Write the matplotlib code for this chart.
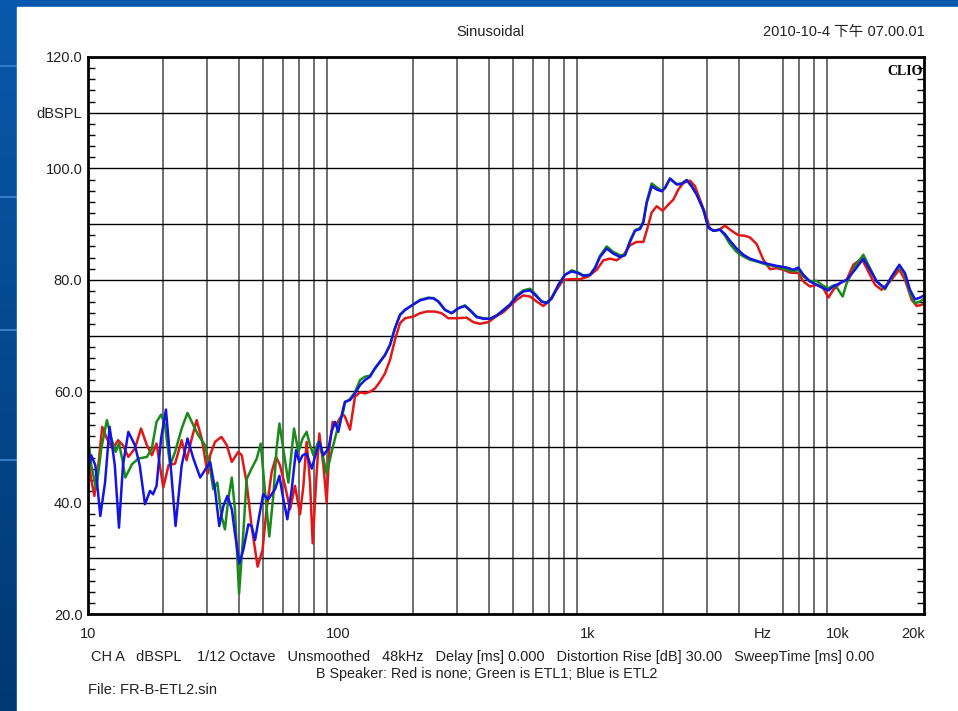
import numpy as np
import matplotlib
matplotlib.use("Agg")
import matplotlib.pyplot as plt
from matplotlib.ticker import FixedLocator, NullFormatter, MultipleLocator, LogLocator
from matplotlib.patches import Rectangle

plt.rcParams['font.family'] = ['Liberation Sans', 'Noto Sans CJK SC', 'DejaVu Sans']

# (frequency Hz, level dBSPL)
red = [(10.0, 48.5), (10.3, 44.2), (10.6, 41.2), (11.0, 46.7), (11.4, 53.6), (11.9, 51.5), (12.2, 50.6),
       (12.6, 49.7), (13.2, 51.2), (13.8, 50.3), (14.5, 48.2), (15.4, 49.7), (16.3, 53.3), (17.2, 50.3),
       (18.0, 48.5), (18.8, 50.6), (20.0, 42.7), (21.0, 46.7), (22.3, 47.0), (23.7, 51.2), (24.8, 47.6),
       (26.0, 51.5), (27.2, 54.8), (28.5, 51.5), (30.1, 45.2),
       (30.8, 48.5), (32.2, 50.9), (34.2, 51.8), (35.9, 50.3), (37.6, 47.3), (39.9, 49.1), (41.2, 48.5),
       (43.1, 43.6), (45.1, 35.8), (47.7, 28.5), (49.9, 31.5), (51.8, 38.8), (54.3, 45.5), (56.5, 48.2),
       (58.6, 46.7), (61.4, 43.0), (64.3, 38.8), (67.3, 43.0), (70.5, 37.9), (72.7, 43.0), (74.9, 50.9),
       (77.3, 43.6), (79.2, 32.7), (81.7, 43.6), (84.2, 52.4), (87.4, 46.7), (90.1, 40.0), (92.3, 49.7),
       (95.2, 54.5), (98.2, 53.9), (101.9, 55.2), (105.0, 55.8),
       (106.7, 55.4), (111.7, 53.1), (116.9, 59.0), (122.5, 59.8), (128.2, 59.6), (134.3, 59.9),
       (140.6, 60.5), (147.2, 61.7), (154.2, 63.2), (161.4, 65.6), (169.0, 69.2), (177.0, 72.2),
       (185.4, 73.1), (200.1, 73.4), (212.8, 74.0), (226.3, 74.3), (244.3, 74.3), (259.8, 74.0),
       (276.3, 73.1), (298.3, 73.1),
       (327.1, 73.2), (347.8, 72.4), (369.8, 72.1), (399.4, 72.4), (431.2, 73.5), (458.5, 74.2),
       (487.5, 75.3), (518.4, 76.4), (551.2, 77.2), (586.1, 77.0), (623.3, 76.1), (662.8, 75.3),
       (704.7, 76.4), (749.3, 78.2), (796.8, 80.0), (847.2, 80.1), (929.0, 80.1), (1003, 80.6),
       (1083, 81.8), (1152, 83.5), (1225, 83.8), (1302, 83.5), (1385, 84.4), (1472, 86.2), (1565, 86.8),
       (1665, 86.8), (1717, 88.8), (1798, 92.1), (1883, 93.2), (1990, 92.4), (2096, 93.5), (2194, 94.4),
       (2298, 96.2), (2406, 97.4), (2559, 97.8), (2679, 96.8), (2805, 94.4), (2983, 91.2), (3076, 89.1),
       (3221, 88.8), (3373, 89.1),
       (3532, 89.7), (3756, 88.8), (3994, 88.0), (4246, 87.9), (4446, 87.6), (4729, 86.4), (5027, 83.6),
       (5346, 81.9), (5685, 82.1), (6045, 81.8), (6427, 81.3), (6940, 81.2), (7267, 79.7), (7727, 78.8),
       (8216, 79.1), (8736, 78.5), (9149, 76.8), (9579, 78.2), (10186, 79.4), (10832, 80.0),
       (11517, 82.7), (12436, 83.8), (13223, 81.5), (14060, 79.1), (14950, 78.2), (16144, 79.7),
       (17592, 81.8), (18535, 80.0), (19710, 76.4), (20638, 75.3), (21612, 75.5), (22630, 76.1)]

green = [(10.0, 52.1), (10.3, 46.7), (10.8, 42.4), (11.3, 49.7), (11.9, 54.8), (12.4, 51.5), (12.9, 49.1),
         (13.3, 50.6), (13.7, 47.9), (14.1, 44.5), (15.0, 46.9), (15.9, 47.9), (17.2, 48.2), (18.0, 49.7),
         (18.8, 54.5), (19.6, 55.8), (20.3, 54.0), (21.3, 46.7), (22.3, 49.1), (23.7, 53.3), (25.0, 56.1),
         (26.4, 53.9), (27.6, 52.1), (29.4, 50.3),
         (30.8, 46.1), (31.7, 42.4), (32.9, 43.6), (34.2, 37.6), (35.3, 35.2), (36.4, 40.6), (37.6, 44.5),
         (38.7, 38.8), (40.2, 23.6), (41.8, 34.5), (43.1, 44.2), (45.1, 46.1), (47.3, 47.9), (49.1, 50.6),
         (51.1, 41.8), (53.1, 33.9), (55.1, 41.2), (56.8, 49.7), (58.3, 54.2), (60.4, 49.7), (63.3, 43.6),
         (66.7, 53.3), (69.4, 49.1), (72.2, 51.5), (74.9, 52.7), (77.3, 50.3), (79.7, 48.5), (83.4, 50.9),
         (86.8, 48.5), (90.1, 45.2), (94.3, 49.1), (100.3, 53.9), (105.0, 56.4),
         (106.7, 58.0), (111.7, 58.6), (116.9, 59.8), (122.5, 62.0), (128.2, 62.6), (134.3, 62.8),
         (140.6, 64.1), (147.2, 65.3), (154.2, 66.5), (161.4, 68.3), (169.0, 71.3), (177.0, 73.7),
         (185.4, 74.6), (198.9, 75.5), (212.8, 76.4), (229.8, 76.8), (240.6, 76.7), (252.0, 76.1),
         (267.9, 74.6), (284.9, 74.0), (303.0, 74.9),
         (322.1, 75.4), (337.3, 74.6), (358.7, 73.4), (381.4, 73.1), (405.5, 73.0), (431.2, 73.6),
         (458.5, 74.6), (487.5, 75.6), (518.4, 77.2), (551.2, 78.1), (586.1, 78.4), (613.8, 77.5),
         (652.7, 76.1), (683.4, 75.9), (715.6, 76.6), (760.9, 79.0), (809.1, 80.9), (860.4, 81.7),
         (914.8, 81.3), (957.9, 80.8),
         (1019, 80.9), (1067, 82.2), (1117, 84.3), (1188, 86.0), (1263, 85.0), (1343, 84.4), (1406, 84.5),
         (1472, 87.0), (1542, 88.9), (1614, 89.3), (1665, 90.5), (1717, 94.0), (1798, 97.3), (1883, 96.6),
         (1971, 96.0), (2032, 96.5), (2128, 98.1), (2263, 97.2), (2369, 97.3), (2481, 97.9), (2598, 96.8),
         (2721, 95.3), (2893, 92.6), (3029, 89.4), (3171, 88.8),
         (3373, 89.0), (3532, 87.9), (3698, 86.4), (3933, 85.0), (4182, 84.2), (4446, 83.6), (4803, 83.2),
         (5184, 82.7), (5685, 82.4), (6233, 81.8), (6627, 81.5), (6940, 81.8), (7267, 80.6), (7727, 79.7),
         (8216, 79.8), (8736, 78.9), (9149, 78.5), (9727, 79.1), (10440, 77.0), (10832, 79.4),
         (11695, 82.4), (12628, 84.5), (13428, 82.1), (14278, 79.7), (15417, 78.3), (16393, 80.5),
         (17592, 82.5), (18535, 80.9), (19409, 77.6), (20324, 75.8), (21281, 76.1), (22284, 76.7)]

blue = [(10.0, 45.8), (10.3, 48.5), (10.7, 46.7), (11.2, 37.6), (11.7, 43.6), (12.2, 53.6), (12.8, 46.7),
        (13.3, 35.5), (13.8, 46.7), (14.5, 52.7), (15.4, 50.3), (16.1, 46.7), (16.9, 39.7), (17.7, 42.1),
        (18.2, 41.5), (18.8, 43.0), (19.6, 51.5), (20.5, 56.7), (21.3, 47.9), (22.4, 35.8), (23.7, 46.7),
        (25.0, 51.5), (26.4, 47.9), (28.1, 44.5),
        (30.8, 47.3), (32.2, 42.4), (33.5, 35.8), (34.8, 39.4), (36.1, 41.2), (37.6, 38.8), (38.7, 34.5),
        (40.3, 29.1), (41.8, 31.5), (43.8, 36.1), (45.1, 35.8), (46.6, 33.3), (48.4, 37.6), (50.2, 41.5),
        (52.6, 40.6), (56.0, 42.4), (58.3, 44.8), (60.1, 41.2), (62.7, 37.0), (65.3, 42.4), (67.9, 49.4),
        (70.0, 47.3), (72.2, 48.5), (74.9, 48.8), (78.5, 46.1), (80.9, 48.2), (84.2, 50.9), (87.4, 48.5),
        (91.5, 49.7), (94.3, 52.7), (97.3, 54.5), (100.3, 52.7), (105.0, 57.0),
        (106.7, 58.1), (111.7, 58.4), (116.9, 59.6), (122.5, 61.1), (128.2, 62.0), (134.3, 62.6),
        (140.6, 64.1), (147.2, 65.3), (154.2, 66.5), (161.4, 68.3), (169.0, 71.3), (177.0, 73.7),
        (185.4, 74.6), (198.9, 75.5), (212.8, 76.3), (229.8, 76.7), (240.6, 76.7), (252.0, 76.1),
        (267.9, 74.6), (284.9, 74.0), (303.0, 74.9),
        (322.1, 75.3), (337.3, 74.5), (358.7, 73.3), (381.4, 73.0), (405.5, 73.0), (431.2, 73.6),
        (458.5, 74.5), (487.5, 75.5), (518.4, 77.0), (551.2, 77.9), (586.1, 78.1), (613.8, 77.3),
        (652.7, 76.1), (683.4, 75.8), (715.6, 76.7), (760.9, 79.1), (809.1, 80.9), (860.4, 81.5),
        (914.8, 81.2), (957.9, 80.7),
        (1019, 80.9), (1067, 82.1), (1117, 84.1), (1188, 85.6), (1263, 84.7), (1343, 84.1), (1406, 84.4),
        (1472, 86.8), (1542, 88.8), (1614, 89.1), (1665, 90.3), (1717, 93.8), (1798, 96.8), (1883, 96.2),
        (1971, 95.9), (2032, 96.5), (2128, 98.2), (2263, 97.1), (2369, 97.2), (2481, 97.9), (2598, 96.8),
        (2721, 95.3), (2893, 92.6), (3029, 89.4), (3171, 88.8),
        (3373, 89.0), (3532, 88.2), (3698, 87.0), (3933, 85.6), (4182, 84.5), (4446, 83.8), (4803, 83.3),
        (5184, 82.9), (5685, 82.5), (6233, 82.2), (6627, 81.8), (6940, 82.2), (7267, 80.9), (7727, 79.7),
        (8216, 79.1), (8736, 78.5), (9149, 78.1), (9579, 78.8), (10186, 79.4), (10832, 80.0),
        (11695, 81.8), (12628, 83.8), (13428, 81.8), (14278, 79.7), (15417, 78.5), (16393, 80.6),
        (17592, 82.7), (18535, 81.2), (19409, 78.2), (20324, 76.5), (21281, 76.8), (22284, 77.3)]

xtick_pos = [10, 100, 1000, 5000, 10000, 20000]
xtick_lab = ['10', '100', '1k', 'Hz', '10k', '20k']
ytick_pos = [20, 30, 40, 50, 60, 70, 80, 90, 100, 110, 120]
ytick_lab = ['20.0', '', '40.0', '', '60.0', '', '80.0', '', '100.0', 'dBSPL', '120.0']

W, H = 958, 711
fig = plt.figure(figsize=(W / 100, H / 100), dpi=100)

# slide background: blue gradient with a white panel
bg = fig.add_axes([0, 0, 1, 1])
grad = np.linspace(0, 1, 256).reshape(-1, 1)
top = np.array([0.03, 0.35, 0.68])
bot = np.array([0.0, 0.22, 0.45])
img = top[None, None, :] * (1 - grad[:, :, None]) + bot[None, None, :] * grad[:, :, None]
bg.imshow(img, aspect='auto', extent=[0, 1, 0, 1])
for yy in [1 - 66 / H, 1 - 197 / H, 1 - 330 / H, 1 - 460 / H]:
    bg.plot([0, 17 / W], [yy, yy], color='#3f86d0', lw=1.2)
bg.add_patch(Rectangle((17 / W, 0), 1, 1 - 7 / H, color='white', zorder=3))
bg.set_xlim(0, 1)
bg.set_ylim(0, 1)
bg.axis('off')

ax = fig.add_axes([88 / W, 1 - 614 / H, (924 - 88) / W, (614 - 57) / H])
ax.set_xscale('log')
ax.set_xlim(10, 22080)
ax.set_ylim(20, 120)

ax.xaxis.set_major_locator(FixedLocator(xtick_pos))
ax.set_xticklabels(xtick_lab)
ax.xaxis.set_minor_locator(LogLocator(base=10, subs=np.arange(1, 10)))
ax.xaxis.set_minor_formatter(NullFormatter())
ax.tick_params(axis='x', which='both', length=0, pad=9, labelsize=10.5, labelcolor='#222222')

ax.yaxis.set_major_locator(FixedLocator(ytick_pos))
ax.set_yticklabels(ytick_lab)
ax.yaxis.set_minor_locator(MultipleLocator(2))
ax.tick_params(axis='y', which='major', length=0, pad=4, labelsize=10.5, labelcolor='#222222')
ax.tick_params(axis='y', which='minor', direction='in', length=5, width=1, left=True, right=True)

ax.grid(True, axis='x', which='minor', color='#555555', lw=1.2)
ax.grid(True, axis='y', which='major', color='black', lw=1.0)
for s in ax.spines.values():
    s.set_linewidth(2)
    s.set_color('black')

for data, col in [(red, '#e01818'), (green, '#1a8a1a'), (blue, '#1414e6')]:
    f = [p[0] for p in data]
    db = [p[1] for p in data]
    ax.plot(f, db, color=col, lw=1.8, solid_joinstyle='round')

ax.text(0.999, 0.985, 'CLIO', transform=ax.transAxes, ha='right', va='top',
        family='Liberation Serif', fontweight='bold', fontsize=10)

fig.text(490 / W, 1 - 32 / H, 'Sinusoidal', ha='center', va='center', fontsize=10.5, color='#222222')
fig.text(925 / W, 1 - 32 / H, '2010-10-4 下午 07.00.01', ha='right', va='center', fontsize=10.5,
         color='#222222')
fig.text(91 / W, 1 - 657 / H,
         'CH A   dBSPL    1/12 Octave   Unsmoothed   48kHz   Delay [ms] 0.000   '
         'Distortion Rise [dB] 30.00   SweepTime [ms] 0.00',
         ha='left', va='center', fontsize=10.45, color='#222222')
fig.text(487 / W, 1 - 674 / H, 'B Speaker: Red is none; Green is ETL1; Blue is ETL2',
         ha='center', va='center', fontsize=10.3, color='#222222')
fig.text(88 / W, 1 - 690 / H, 'File: FR-B-ETL2.sin', ha='left', va='center', fontsize=10.5,
         color='#222222')

fig.savefig('out.png', dpi=100)
